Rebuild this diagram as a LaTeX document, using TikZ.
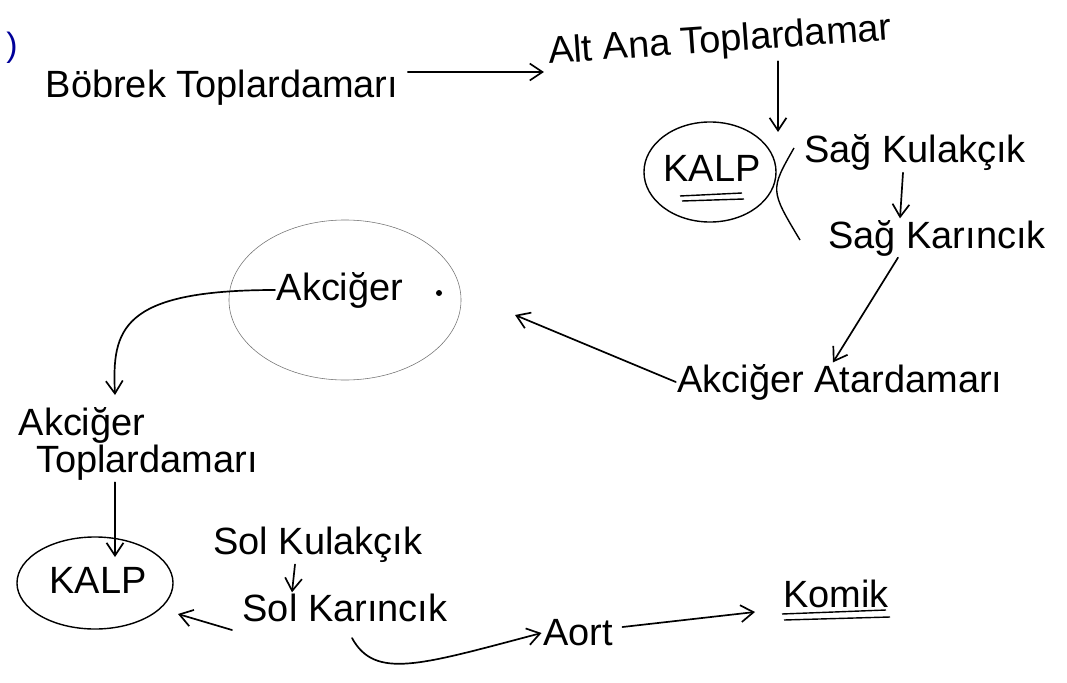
\documentclass[tikz,border=0pt]{standalone}
\usepackage{fontspec}
\setmainfont{Liberation Sans}
\usetikzlibrary{arrows.meta,shapes.geometric}

\begin{document}
\begin{tikzpicture}[x=0.025cm,y=-0.025cm,
  txt/.style={font=\fontsize{27}{31}\selectfont, inner sep=1pt},
  arr/.style={-{Straight Barb[length=9pt,width=12pt]}, line width=1.2pt, line cap=round},
  organ/.style={draw, ellipse, line width=1pt}]
\useasboundingbox (0,0) rectangle (1067,683);
\node[text=blue!60!black, font=\fontsize{24}{28}\selectfont] (Paren) at (12,48) {)}; % margin mark

\node[txt] (bobrek) at (222,88) {Böbrek Toplardamarı};
\node[txt, rotate=4] (altana) at (720,42) {Alt Ana Toplardamar};
\draw[arr] (bobrek.east) ++(8,-16) coordinate (b1) -- ([xshift=-2pt]altana.west |- b1);

% heart, right side
\node[organ, minimum width=3.3cm, minimum height=2.5cm] (kalpR) at (710,172) {};
\node[txt] (kalpRt) at (712,168) {KALP};
\draw[line width=1pt] (680,196) -- (742,193);
\draw[line width=1pt] (682,201) -- (744,199);
\draw[arr] (altana.south -| 778,0) -- (778,132);
\draw[line width=1pt] (794,148) .. controls (770,190) .. (800,240);
\node[txt] (sagkul) at (915,153) {Sağ Kulakçık};
\node[txt] (sagkar) at (937,238) {Sağ Karıncık};
\draw[arr] (sagkul.south -| 903,0) -- (sagkar.north -| 900,0);
\node[txt] (akatar) at (840,382) {Akciğer Atardamarı};
\draw[arr] (sagkar.south -| 898,0) -- ([xshift=-5pt]akatar.north);

% lung
\node[draw, ellipse, thin, black!55, minimum width=5.8cm, minimum height=4cm] (akc) at (345,300) {};
\node[txt] (akciger) at (340,290) {Akciğer};
\fill (439,293) circle (3);
\draw[arr] (akatar.west) -- (515,315);
\node[txt] (aktopA) at (82,425) {Akciğer};
\node[txt] (aktopB) at (147,463) {Toplardamarı};
\draw[arr] (akciger.west) .. controls (120,290) and (112,330) .. (115,395);

% heart, left side
\node[organ, minimum width=3.9cm, minimum height=2.3cm] (kalpL) at (95,583) {};
\node[txt] (kalpLt) at (98,580) {KALP};
\draw[arr] (aktopB.south -| 115,0) -- (115,557);
\node[txt] (solkul) at (318,545) {Sol Kulakçık};
\node[txt] (solkar) at (345,608) {Sol Karıncık};
\draw[arr] (solkul.south -| 295,0) -- (solkar.north -| 292,0);
\draw[arr] (232,630) -- (178,614);
\node[txt] (aort) at (578,633) {Aort};
\draw[arr] (352,638) .. controls (375,680) and (420,665) .. (aort.west);
\node[txt] (komik) at (836,594) {Komik};
\draw[line width=1pt] (782,614) -- (886,610);
\draw[line width=1pt] (784,620) -- (890,617);
\draw[arr] (aort.east) ++(8,-6) -- (755,612);
\end{tikzpicture}
\end{document}
